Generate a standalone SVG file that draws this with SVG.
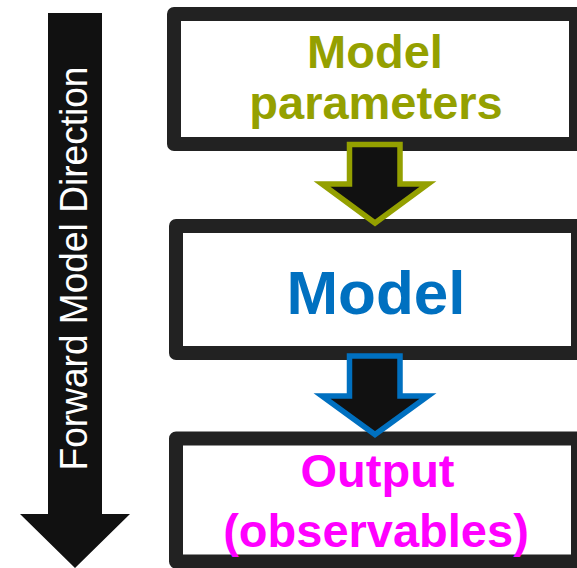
<svg xmlns="http://www.w3.org/2000/svg" width="577" height="568" viewBox="0 0 577 568">
<style>
.box{fill:#ffffff;stroke:#222222;stroke-width:14;stroke-linejoin:round}
.t{font-family:"Liberation Sans",Arial,sans-serif;font-weight:bold;text-anchor:middle}
.arr{fill:#111111;stroke-width:5.5;stroke-linejoin:miter}
</style>
<rect width="577" height="568" fill="#ffffff"/>
<g id="direction">
<path d="M48,13 H102 V514 H130 L75,568 L20,514 H48 Z" fill="#111111"/>
<text transform="translate(87,268.5) rotate(-90)" font-family="Liberation Sans, Arial, sans-serif" font-size="38" fill="#ffffff" text-anchor="middle" textLength="404" lengthAdjust="spacingAndGlyphs">Forward Model Direction</text>
</g>
<g id="params">
<rect class="box" x="174" y="14" width="402" height="130"/>
<text class="t" x="375" y="68" font-size="47" fill="#94A000">Model</text>
<text class="t" x="376" y="119" font-size="47" fill="#94A000">parameters</text>
</g>
<g id="model">
<rect class="box" x="176" y="226" width="402" height="127"/>
<text class="t" x="376" y="314" font-size="62" fill="#0070C0">Model</text>
</g>
<g id="output">
<rect class="box" x="176" y="438.5" width="402" height="123"/>
<text class="t" x="377.5" y="487" font-size="47" fill="#FF00FF">Output</text>
<text class="t" x="376" y="547" font-size="47" fill="#FF00FF">(observables)</text>
</g>
<g id="connectors">
<path class="arr" stroke="#94A000" d="M349.5,144.5 H400 V184 H428 L375,223 L322,184 H349.5 Z"/>
<path class="arr" stroke="#0070C0" d="M349.5,356 H400 V396 H428 L375,434.5 L322,396 H349.5 Z"/>
</g>
</svg>
